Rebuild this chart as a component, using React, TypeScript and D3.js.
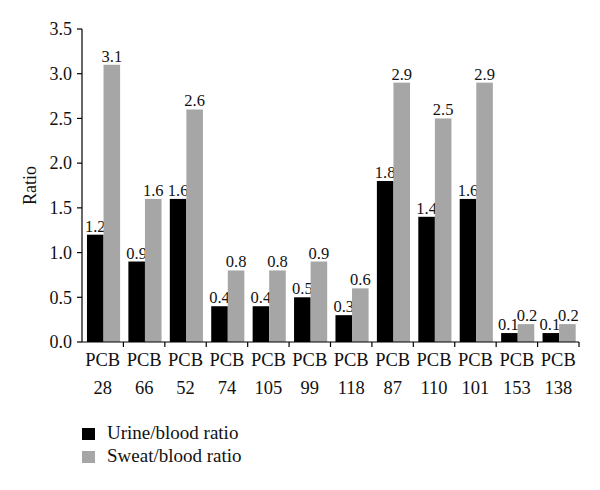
import React from "react";
import * as d3 from "d3";

const categories = ["28", "66", "52", "74", "105", "99", "118", "87", "110", "101", "153", "138"];
const urine = [1.2, 0.9, 1.6, 0.4, 0.4, 0.5, 0.3, 1.8, 1.4, 1.6, 0.1, 0.1];
const sweat = [3.1, 1.6, 2.6, 0.8, 0.8, 0.9, 0.6, 2.9, 2.5, 2.9, 0.2, 0.2];
const yTicks = [0, 0.5, 1, 1.5, 2, 2.5, 3, 3.5];
const seriesNames = ["Urine/blood ratio", "Sweat/blood ratio"];
const colors = ["#000000", "#a6a6a6"];

export default function App() {
  const W = 600, H = 490;
  const left = 82, right = 579, top = 29, bottom = 342;
  const x = d3.scaleBand<string>().domain(categories).range([left, right]).paddingInner(0).paddingOuter(0);
  const y = d3.scaleLinear().domain([0, 3.5]).range([bottom, top]);
  const bw = x.bandwidth();
  const barW = bw * 0.4;
  const offset = bw * 0.12;
  const font = "'Liberation Serif', 'Times New Roman', serif";
  const series = [urine, sweat];
  return (
    <svg width={W} height={H} style={{ position: "absolute", left: 0, top: 0, background: "#fff" }} fontFamily={font}>
      {series.map((vals, si) =>
        vals.map((v, i) => {
          const bx = (x(categories[i]) as number) + offset + si * barW;
          return (
            <g key={`${si}-${i}`}>
              <rect x={bx} y={y(v)} width={barW} height={bottom - y(v)} fill={colors[si]} />
              <text x={bx + barW / 2 + (v < 0.25 ? (si === 0 ? -1 : 1) : 0)} y={y(v) - 3} textAnchor="middle" fontSize={16.5} fill="#111">
                {v.toFixed(1)}
              </text>
            </g>
          );
        })
      )}
      <line x1={left} x2={left} y1={top} y2={bottom} stroke="#000" strokeWidth={1.2} />
      <line x1={left} x2={right} y1={bottom} y2={bottom} stroke="#000" strokeWidth={1.2} />
      {yTicks.map((t) => (
        <g key={t}>
          <line x1={left - 5} x2={left} y1={y(t)} y2={y(t)} stroke="#000" strokeWidth={1.2} />
          <text x={left - 10} y={y(t)} dy="0.35em" textAnchor="end" fontSize={18} fill="#111">
            {t.toFixed(1)}
          </text>
        </g>
      ))}
      {categories.map((c, i) => (
        <line key={`t${i}`} x1={(x(c) as number) + bw} x2={(x(c) as number) + bw} y1={bottom} y2={bottom + 5} stroke="#000" strokeWidth={1.2} />
      ))}
      {categories.map((c) => (
        <g key={`l${c}`}>
          <text x={(x(c) as number) + bw / 2} y={366} textAnchor="middle" fontSize={18.5} fill="#111">PCB</text>
          <text x={(x(c) as number) + bw / 2} y={394} textAnchor="middle" fontSize={18.5} fill="#111">{c}</text>
        </g>
      ))}
      <text transform={`translate(36, ${(top + bottom) / 2}) rotate(-90)`} textAnchor="middle" fontSize={18} fill="#111">
        Ratio
      </text>
      {seriesNames.map((n, i) => (
        <g key={n}>
          <rect x={82} y={428 + i * 23} width={13} height={12} fill={colors[i]} />
          <text x={107} y={439 + i * 23} fontSize={19} fill="#111">{n}</text>
        </g>
      ))}
    </svg>
  );
}
